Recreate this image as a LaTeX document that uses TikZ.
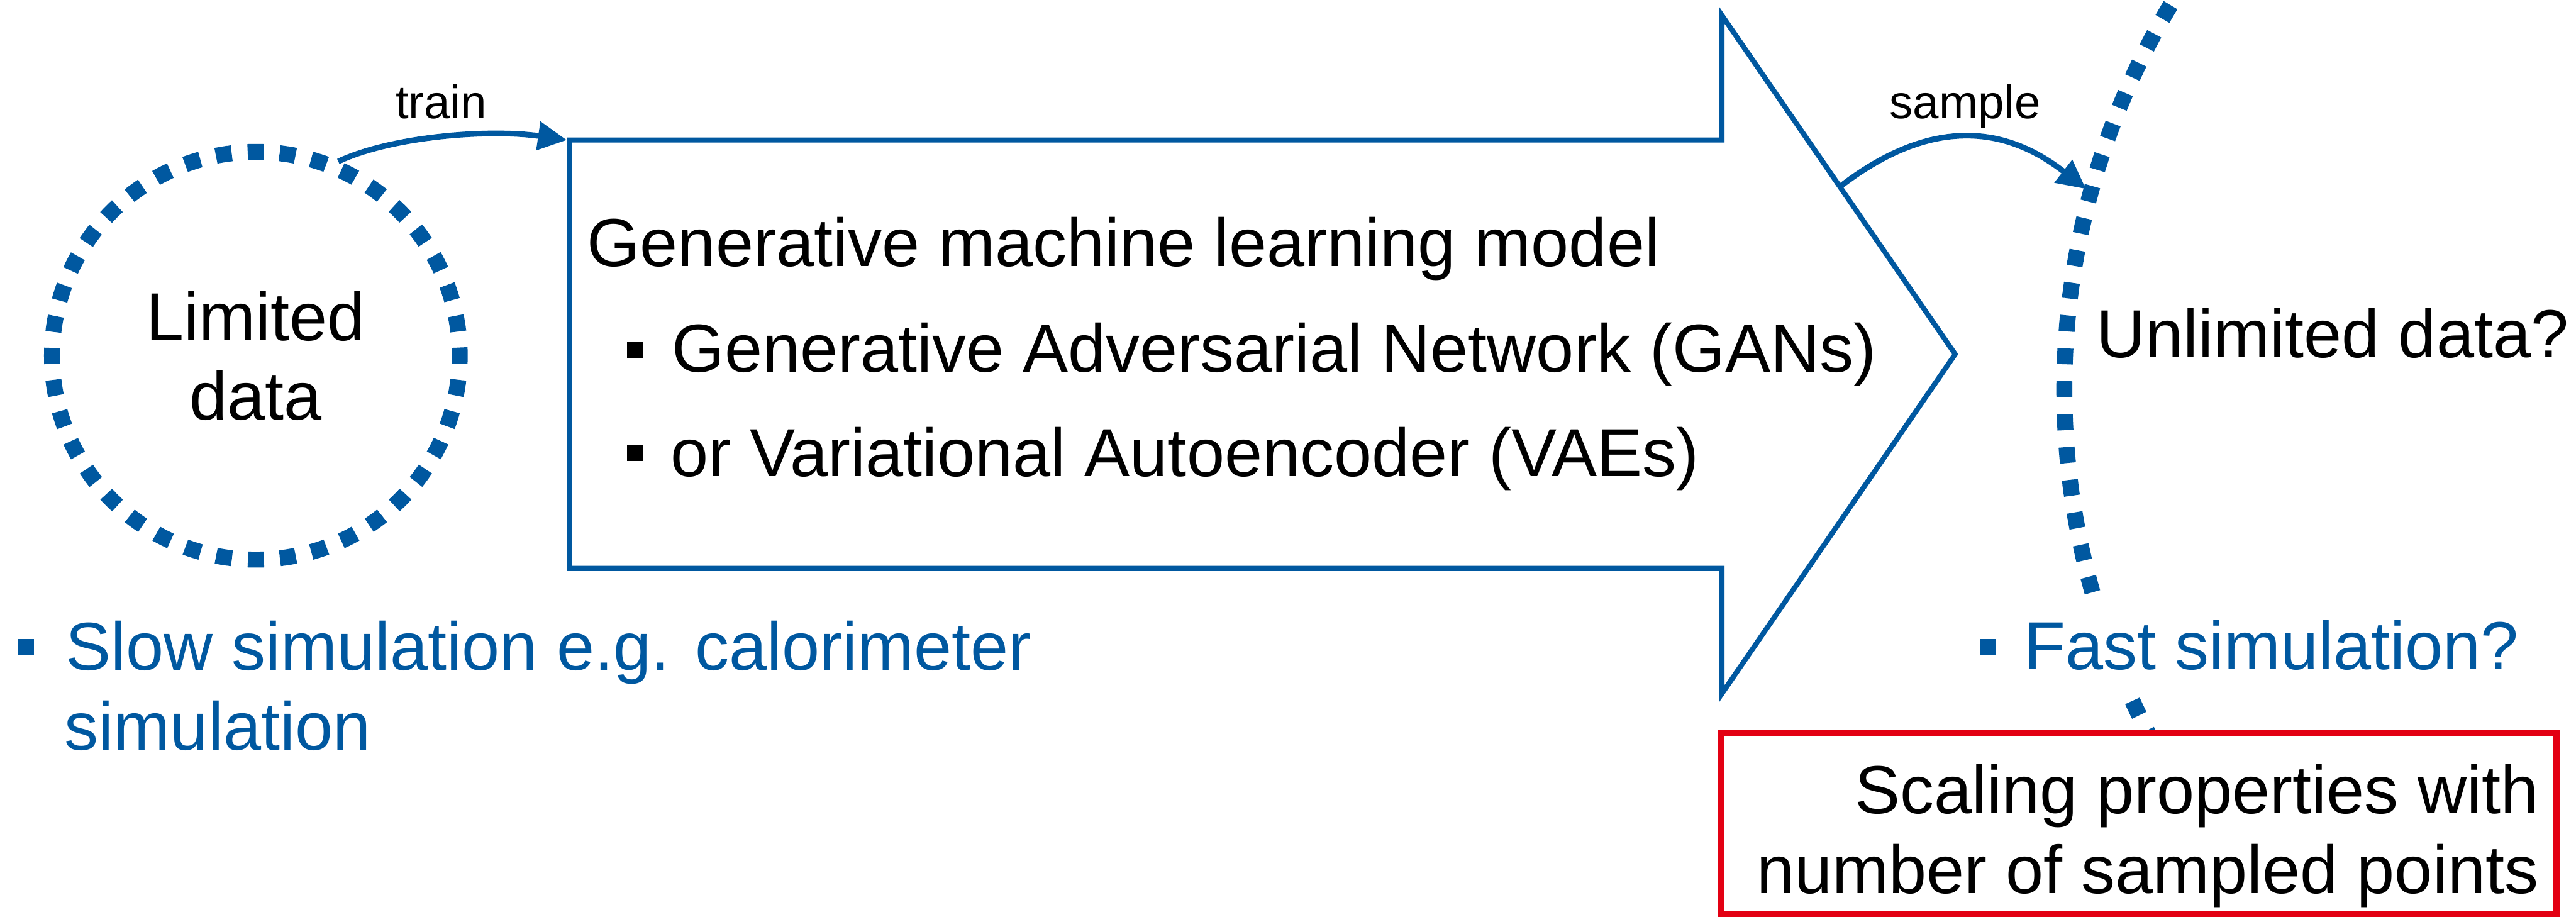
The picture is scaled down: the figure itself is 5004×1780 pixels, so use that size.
\documentclass[tikz,border=0pt]{standalone}
\usepackage{fontspec}
\setmainfont{Liberation Sans}
\usetikzlibrary{arrows.meta}
\definecolor{kblue}{RGB}{0,88,160}
\definecolor{kred}{RGB}{227,0,19}

\begin{document}
\begin{tikzpicture}[x=0.25pt, y=-0.25pt,
  bigfont/.style={font=\fontsize{33}{38.5}\selectfont},
  smallfont/.style={font=\fontsize{22.75}{27}\selectfont},
  txt/.style={bigfont, inner sep=0pt, anchor=base west},
  dotline/.style={draw=kblue, line width=7.75pt, line cap=butt},
  bulletsq/.style={rectangle, inner sep=0pt, outer sep=0pt},
  flow/.style={draw=kblue, line width=2.75pt, -{Triangle[length=14pt, width=13.5pt]}},
  outline/.style={draw=kblue, line width=2.5pt, line join=miter},
]
\useasboundingbox (0,0) rectangle (5004,1780);

% large dotted boundary of the sampled region (mostly off the page)
\begin{scope}
  \clip (0,0) rectangle (5004,1780);
  \coordinate (arcC) at (5462,756);
  \draw[dotline, dash pattern=on 7.75pt off 8.25pt, dash phase=3.875pt]
    (arcC) ++(180:1452) arc[start angle=180, end angle=128, radius=1452];
  \draw[dotline, dash pattern=on 7.75pt off 8.25pt, dash phase=3.875pt]
    (arcC) ++(180:1452) arc[start angle=180, end angle=232, radius=1452];
\end{scope}

% limited data set
\node[circle, minimum size=205pt, inner sep=0pt, outer sep=0pt, align=center, bigfont]
  (limited) at (497,691) {Limited\\data};
\draw[dotline, dash pattern=on 7.75pt off 7.8pt, dash phase=3.875pt]
  (limited.center) circle[radius=396];

% generative model block arrow
\coordinate (boxNW) at (1106,272);
\coordinate (boxNE) at (3345,272);
\coordinate (headT) at (3345,30);
\coordinate (headTip) at (3798,688);
\coordinate (headB) at (3345,1347);
\coordinate (boxSE) at (3345,1104);
\coordinate (boxSW) at (1106,1104);
\draw[outline] (boxNW) -- (boxNE) -- (headT) -- (headTip) -- (headB) -- (boxSE) -- (boxSW) -- cycle;

\node[txt] (gmodel) at (1140,517) {Generative machine learning model};
\node[bulletsq, fill=black, minimum size=7.6pt] (bulA) at (1233,680) {};
\node[txt] (gan) at (1304,723) {Generative Adversarial Network (GANs)};
\node[bulletsq, fill=black, minimum size=7.6pt] (bulB) at (1233,880) {};
\node[txt] (vae) at (1302,926) {or Variational Autoencoder (VAEs)};

% train / sample connectors
\coordinate (trainEnd) at (1101,272);
\coordinate (sampleStart) at (3575,362);
\coordinate (sampleEnd) at (4052,367);
\node[smallfont, inner sep=0pt, anchor=base] (trainLbl) at (857,230) {train};
\node[smallfont, inner sep=0pt, anchor=base] (sampleLbl) at (3817,230) {sample};
\draw[flow] (limited.67) .. controls (760,265) and (950,250) .. (trainEnd);
\draw[flow] (sampleStart) .. controls (3743,233) and (3887,238) .. (sampleEnd);

% right-hand side texts
\node[txt] (unlim) at (4072,694) {Unlimited data?};
\node[bulletsq, fill=kblue, minimum size=7.75pt] (bulFast) at (3861,1257) {};
\node[txt, text=kblue, fill=white, text height=34pt, text depth=11pt, inner xsep=4pt]
  (fast) at (3915,1301) {Fast simulation?};

% left-hand side texts
\node[bulletsq, fill=kblue, minimum size=7.75pt] (bulSlow) at (50,1257) {};
\node[txt, text=kblue] (slowA) at (127,1302) {Slow simulation e.g. calorimeter};
\node[txt, text=kblue] (slowB) at (125,1457) {simulation};

% highlighted question
\node[draw=kred, fill=white, line width=3pt, minimum width=405.5pt, minimum height=88pt,
  inner sep=0pt, outer sep=0pt, anchor=north west] (scalebox) at (3344,1424) {};
\node[txt, anchor=base east] (scaleA) at (4932,1580) {Scaling properties with};
\node[txt, anchor=base east] (scaleB) at (4932,1735) {number of sampled points};
\end{tikzpicture}
\end{document}
